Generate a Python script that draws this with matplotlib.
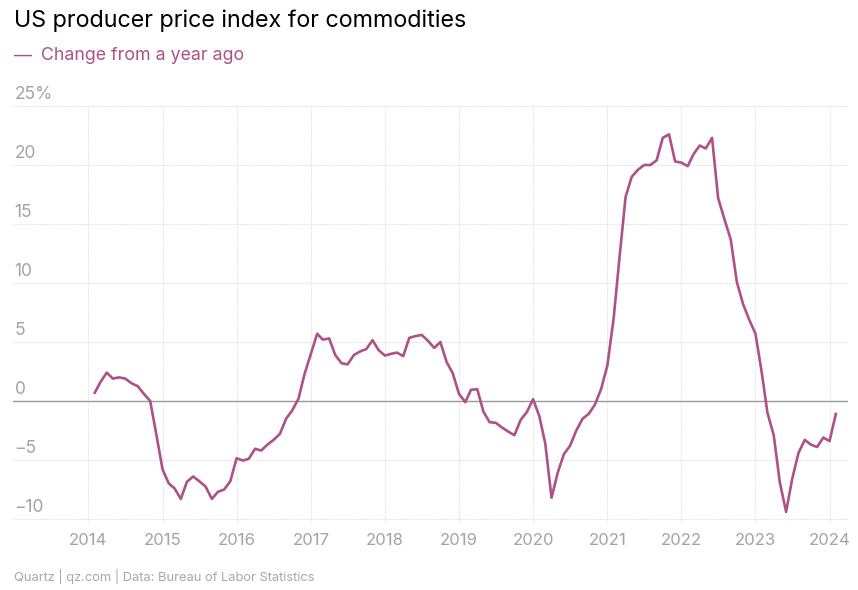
import matplotlib
matplotlib.use("Agg")
import matplotlib.pyplot as plt
import matplotlib.transforms as mtransforms
import pandas as pd

plt.rcParams['font.family'] = ['Inter', 'DejaVu Sans']

# monthly PPI change from a year ago, Feb 2014 .. Feb 2024
start_month = "2014-02-01"
ppi_change = [
    0.7, 1.6, 2.4, 1.9, 2.0, 1.9, 1.5, 1.25, 0.6, 0.0, -2.8,
    -5.8, -7.0, -7.4, -8.3, -6.85, -6.4, -6.8, -7.25, -8.3, -7.7, -7.5, -6.8,
    -4.85, -5.05, -4.9, -4.05, -4.2, -3.7, -3.3, -2.8, -1.5, -0.8, 0.2, 2.3,
    4.0, 5.7, 5.2, 5.3, 3.9, 3.2, 3.1, 3.9, 4.2, 4.4, 5.15, 4.3,
    3.85, 4.0, 4.1, 3.8, 5.35, 5.5, 5.6, 5.1, 4.5, 5.0, 3.3, 2.35,
    0.6, -0.1, 0.95, 1.0, -0.9, -1.8, -1.85, -2.25, -2.6, -2.9, -1.6, -0.95,
    0.15, -1.3, -3.6, -8.2, -6.1, -4.5, -3.8, -2.5, -1.5, -1.1, -0.3, 1.0,
    3.0, 7.0, 12.0, 17.3, 19.0, 19.6, 20.0, 20.0, 20.4, 22.3, 22.6, 20.3,
    20.2, 19.9, 20.9, 21.65, 21.4, 22.3, 17.2, 15.4, 13.7, 10.1, 8.2, 6.9,
    5.7, 2.4, -1.0, -2.9, -6.9, -9.4, -6.6, -4.4, -3.3, -3.7, -3.9, -3.1,
    -3.4, -1.1,
]
months = pd.date_range(start_month, periods=len(ppi_change), freq="MS")

years = list(range(2014, 2025))
y_ticks = [-10, -5, 0, 5, 10, 15, 20, 25]

line_color = "#ad5189"
grey = "#a3a3a3"

fig = plt.figure(figsize=(8.58, 5.90), dpi=100)
ax = fig.add_axes([0.01515, 0.1124, 0.9732, 0.7079])

ax.plot(months, ppi_change, color=line_color, lw=1.9, solid_joinstyle="round", zorder=3)

ax.set_xlim(pd.Timestamp("2012-12-25"), pd.Timestamp("2024-04-01"))
ax.set_ylim(-10.4, 25)

year_dates = [pd.Timestamp(f"{y}-01-01") for y in years]
ax.set_xticks(year_dates)
ax.set_xticklabels([str(y) for y in years], color=grey, fontsize=12)
ax.tick_params(axis="x", length=0, pad=7)
ax.set_yticks(y_ticks)
ax.tick_params(axis="y", length=0, labelleft=False)

ax.grid(True, color="#dedede", lw=0.8, linestyle=(0, (1, 1)))
ax.axhline(0, color="#9a9a9a", lw=1.0, zorder=2)
for s in ax.spines.values():
    s.set_visible(False)

trans = mtransforms.blended_transform_factory(ax.transAxes, ax.transData)
for v in y_ticks:
    label = f"{v}%" if v == 25 else ("\u2212" + str(abs(v)) if v < 0 else str(v))
    ax.annotate(label, xy=(0.002, v), xycoords=trans, xytext=(0, 2),
                textcoords="offset points", ha="left", va="bottom",
                color=grey, fontsize=12.5)

fig.text(14 / 858, 1 - 21 / 590, "US producer price index for commodities",
         fontsize=16.8, color="black", ha="left", va="center")
fig.text(14 / 858, 1 - 56 / 590, "\u2014", fontsize=13, color=line_color,
         ha="left", va="center")
fig.text(41 / 858, 1 - 56 / 590, "Change from a year ago", fontsize=12.8,
         color=line_color, ha="left", va="center")
fig.text(14 / 858, 1 - 576 / 590, "Quartz | qz.com | Data: Bureau of Labor Statistics",
         fontsize=9.3, color="#a8a8a8", ha="left", va="center")

fig.savefig("out.png", dpi=100, facecolor="white")
